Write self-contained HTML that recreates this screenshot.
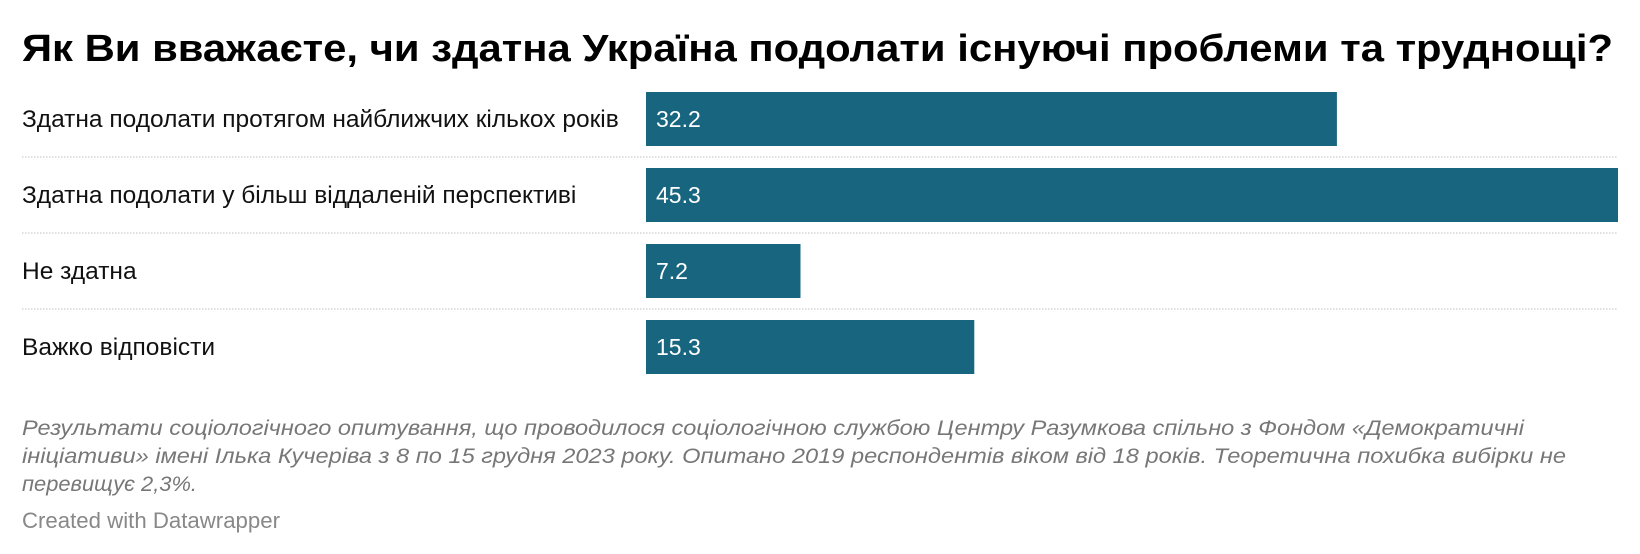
<!DOCTYPE html>
<html><head><meta charset="utf-8"><style>
body{margin:0;background:#fff;}
svg{display:block;font-family:"Liberation Sans","DejaVu Sans",sans-serif;}
</style></head><body>
<svg id="chart" width="1640" height="554">
<text x="22" y="61" font-size="38" font-weight="bold" fill="#000" textLength="1591" lengthAdjust="spacingAndGlyphs">Як Ви вважаєте, чи здатна Україна подолати існуючі проблеми та труднощі?</text>
<g id="rows"></g>
<g fill="#777" font-size="21" font-style="italic">
<text x="22" y="435" textLength="1502" lengthAdjust="spacingAndGlyphs">Результати соціологічного опитування, що проводилося соціологічною службою Центру Разумкова спільно з Фондом «Демократичні</text>
<text x="22" y="463" textLength="1544" lengthAdjust="spacingAndGlyphs">ініціативи» імені Ілька Кучеріва з 8 по 15 грудня 2023 року. Опитано 2019 респондентів віком від 18 років. Теоретична похибка вибірки не</text>
<text x="22" y="491" textLength="175" lengthAdjust="spacingAndGlyphs">перевищує 2,3%.</text>
</g>
<text x="22" y="528" font-size="22" fill="#888" textLength="258" lengthAdjust="spacingAndGlyphs">Created with Datawrapper</text>
</svg>
<script>
const categories = ["Здатна подолати протягом найближчих кількох років","Здатна подолати у більш віддаленій перспективі","Не здатна","Важко відповісти"];
const values = [32.2, 45.3, 7.2, 15.3];
const labels = ["32.2","45.3","7.2","15.3"];
const NS="http://www.w3.org/2000/svg";
const g=document.getElementById('rows');
const x0=646, x1=1618, top0=92, pitch=76, bh=54;
const maxV=Math.max(...values);
const xs=v=>(v/maxV)*(x1-x0);
const ys=i=>top0+i*pitch;
categories.forEach((c,i)=>{
  const y=ys(i);
  const t=document.createElementNS(NS,'text');
  
  
  t.setAttribute('x',22);t.setAttribute('y',y+bh/2+8);
  t.setAttribute('font-size','24.5');t.setAttribute('fill','#111');
  t.textContent=c;g.appendChild(t);
  const r=document.createElementNS(NS,'rect');
  
  
  r.setAttribute('x',x0);r.setAttribute('y',y);r.setAttribute('width',xs(values[i]));r.setAttribute('height',bh);
  r.setAttribute('fill','#186580');g.appendChild(r);
  const v=document.createElementNS(NS,'text');
  
  
  v.setAttribute('x',x0+10);v.setAttribute('y',y+bh/2+8);
  v.setAttribute('font-size','23');v.setAttribute('fill','#fff');
  v.textContent=labels[i];g.appendChild(v);
  if(i<categories.length-1){
    const l=document.createElementNS(NS,'line');
    
    
    const ly=y+bh+(pitch-bh)/2;
    l.setAttribute('x1',22);l.setAttribute('x2',1618);l.setAttribute('y1',ly);l.setAttribute('y2',ly);
    l.setAttribute('stroke','#ccc');l.setAttribute('stroke-width','1.3');l.setAttribute('stroke-dasharray','1.5,1.5');
    g.appendChild(l);
  }
});
</script>
</body></html>
